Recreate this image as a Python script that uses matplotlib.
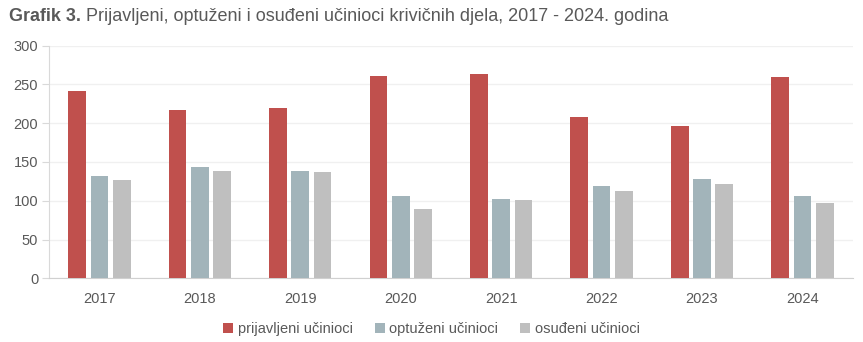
import matplotlib
matplotlib.use("Agg")
import matplotlib.pyplot as plt
import numpy as np

years = ["2017", "2018", "2019", "2020", "2021", "2022", "2023", "2024"]
prijavljeni = [242, 217, 219, 261, 264, 208, 196, 260]
optuzeni = [132, 144, 138, 106, 102, 119, 128, 106]
osudjeni = [127, 139, 137, 90, 101, 113, 122, 97]

series = [
    ("prijavljeni učinioci", prijavljeni, "#C0504D"),
    ("optuženi učinioci", optuzeni, "#A2B4BA"),
    ("osuđeni učinioci", osudjeni, "#BFBFBF"),
]

plt.rcParams['font.family'] = ['Liberation Sans', 'DejaVu Sans']
text_col = "#595959"

fig = plt.figure(figsize=(8.63, 3.42), dpi=100)
ax = fig.add_axes([0.0571, 0.1863, 0.9309, 0.6801])

x = np.arange(len(years))
step = 0.222
width = 0.176
for i, (name, vals, col) in enumerate(series):
    ax.bar(x + (i - 1) * step, vals, width, color=col, label=name, zorder=3)

ax.set_xlim(-0.5, len(years) - 0.5)
ax.set_ylim(0, 300)
ax.set_yticks(range(0, 301, 50))
ax.set_xticks(x)
ax.set_xticklabels(years)
ax.grid(axis='y', color="#F0F0F0", linewidth=1, zorder=0)

for s in ['top', 'right']:
    ax.spines[s].set_visible(False)
ax.spines['left'].set_color("#D9D9D9")
ax.spines['bottom'].set_color("#D0D0D0")
ax.tick_params(axis='y', colors="#D9D9D9", labelcolor=text_col, labelsize=10.5, length=5, pad=3)
ax.tick_params(axis='x', length=0, labelcolor=text_col, labelsize=10.5, pad=10)

fig.text(0.0105, 0.953, "Grafik 3.", fontsize=12.9, fontweight='bold', color=text_col, va='center')
fig.text(0.0997, 0.953, "Prijavljeni, optuženi i osuđeni učinioci krivičnih djela, 2017 - 2024. godina",
         fontsize=13, color=text_col, va='center')

fig.legend(loc='center', bbox_to_anchor=(0.5, 0.038), ncol=3, frameon=False,
           fontsize=10.5, handlelength=0.7, handleheight=0.7, handletextpad=0.3,
           columnspacing=1.5, labelcolor=text_col)

fig.savefig("out.png", dpi=100)
